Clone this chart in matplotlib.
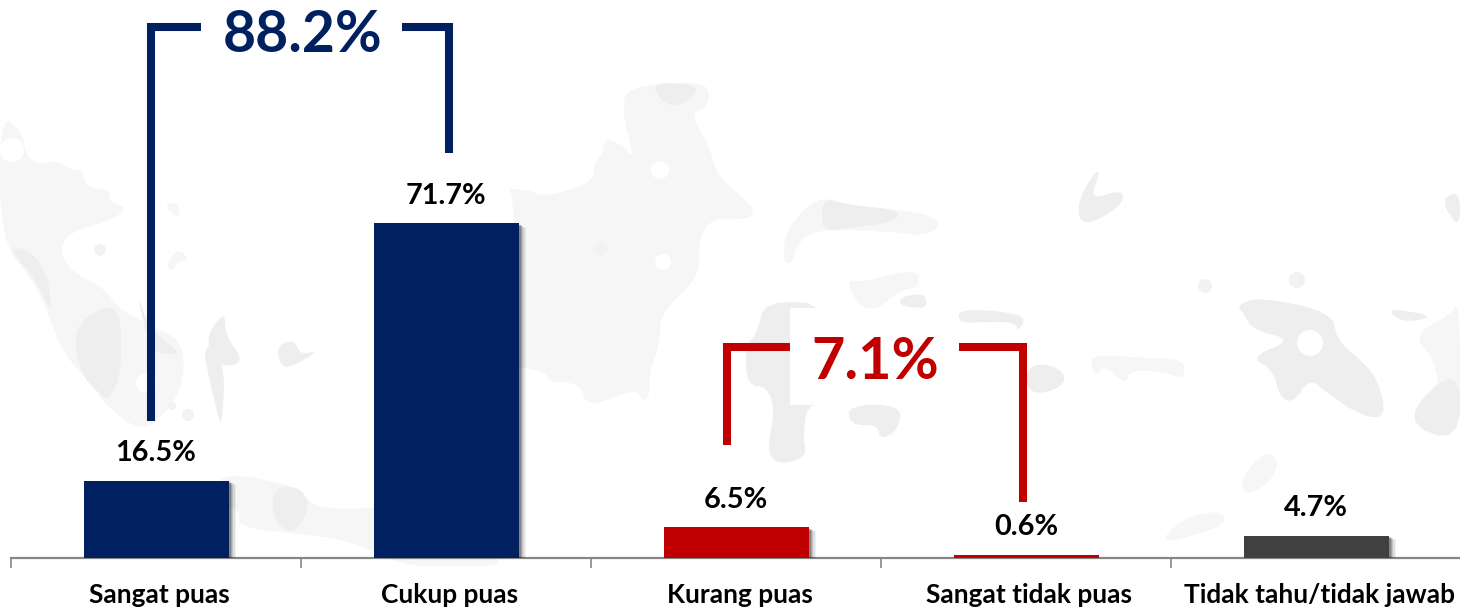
#!/usr/bin/env python3
"""Tingkat kepuasan: bar chart with two bracket totals over a faint map."""

import matplotlib
matplotlib.use('Agg')
import matplotlib.pyplot as plt
import matplotlib.patheffects as pe
from matplotlib.patches import Polygon, Circle

plt.rcParams['font.family'] = ['Lato', 'DejaVu Sans']

W, H = 1460, 609
AXIS_Y = 557.5
PX_PER_UNIT = 4.66

categories = ['Sangat puas', 'Cukup puas', 'Kurang puas',
              'Sangat tidak puas', 'Tidak tahu/tidak jawab']
values = [16.5, 71.7, 6.5, 0.6, 4.7]
value_labels = ['16.5%', '71.7%', '6.5%', '0.6%', '4.7%']
bar_colors = ['#002060', '#002060', '#C00000', '#C00000', '#404040']

positive_total = '88.2%'
negative_total = '7.1%'

# background map shapes, in picture pixels
map_light = [
    [(0, 113), (23, 133), (25, 153), (37, 165), (57, 160), (70, 170), (83, 170), (84, 183),
     (97, 190), (110, 190), (110, 203), (127, 207), (113, 220), (67, 233), (60, 253),
     (73, 273), (103, 287), (120, 310), (150, 325), (180, 340), (185, 367), (177, 400),
     (143, 435), (100, 400), (98, 387), (80, 373), (60, 347), (50, 317), (33, 280), (0, 240)],
    [(500, 188), (530, 190), (543, 197), (580, 187), (595, 177), (593, 165), (603, 153),
     (605, 138), (622, 145), (635, 160), (622, 112), (627, 87), (690, 82), (710, 87),
     (707, 108), (690, 113), (710, 147), (717, 177), (755, 207), (750, 220), (713, 217),
     (698, 240), (700, 277), (660, 313), (660, 343), (648, 377), (650, 395), (642, 402),
     (637, 388), (587, 408), (580, 383), (548, 382), (547, 373), (527, 368), (515, 368),
     (515, 188)],
    [(783, 263), (785, 233), (803, 210), (822, 197), (848, 205), (942, 215), (933, 237),
     (873, 230), (813, 230), (795, 247), (793, 263)],
    [(845, 280), (863, 282), (917, 268), (920, 287), (900, 290), (877, 310), (860, 307)],
    [(1090, 360), (1098, 355), (1150, 358), (1185, 360), (1184, 380), (1165, 372), (1130, 370),
     (1125, 385), (1105, 365), (1095, 376)],
    [(217, 490), (225, 472), (300, 487), (310, 505), (345, 510), (400, 505), (490, 510),
     (480, 520), (430, 525), (470, 545), (510, 565), (450, 567), (400, 565), (350, 540),
     (290, 533), (238, 527), (240, 510), (215, 500)],
    [(167, 204), (178, 202), (180, 218), (167, 210)],
    [(166, 265), (178, 248), (190, 260), (178, 262), (172, 272)],
    [(1240, 480), (1265, 450), (1280, 462), (1268, 485), (1245, 495)],
    [(1215, 510), (1228, 520), (1212, 530), (1158, 545), (1180, 520)],
    [(1413, 335), (1450, 315), (1460, 300), (1460, 440), (1440, 400), (1435, 360)],
]
map_dark = [
    [(8, 247), (30, 250), (48, 275), (52, 315), (36, 280)],
    [(73, 330), (100, 307), (120, 308), (122, 370), (110, 400), (100, 395), (80, 373)],
    [(136, 290), (150, 330), (180, 352), (170, 355), (150, 350)],
    [(204, 340), (225, 310), (225, 335), (245, 362), (220, 368)],
    [(205, 350), (215, 340), (225, 375), (222, 420), (220, 425), (205, 360)],
    [(277, 345), (295, 340), (300, 355), (320, 350), (290, 368), (280, 365)],
    [(273, 487), (300, 487), (310, 505), (300, 525), (290, 533), (273, 520)],
    [(652, 82), (700, 85), (690, 100), (675, 107), (660, 100)],
    [(765, 300), (833, 305), (833, 400), (807, 405), (803, 437), (807, 457), (777, 465),
     (767, 450), (775, 410), (767, 387), (747, 385), (745, 347), (757, 333)],
    [(822, 197), (848, 205), (900, 210), (895, 222), (850, 228), (822, 232)],
    [(1237, 305), (1260, 297), (1332, 312), (1337, 340), (1357, 357), (1377, 377), (1387, 417),
     (1363, 417), (1327, 393), (1310, 378), (1293, 403), (1280, 397), (1273, 370), (1250, 357),
     (1293, 340), (1253, 330), (1243, 313)],
    [(1388, 308), (1435, 316), (1410, 322), (1395, 318)],
    [(1400, 420), (1460, 363), (1460, 445)],
    [(1027, 365), (1055, 365), (1068, 380), (1050, 393), (1027, 392)],
    [(1078, 200), (1095, 172), (1100, 172), (1090, 200), (1120, 190), (1125, 200), (1105, 217),
     (1080, 225)],
    [(848, 405), (902, 405), (898, 430), (880, 440), (878, 425), (850, 425)],
    [(900, 297), (925, 293), (927, 307), (915, 308), (900, 305)],
    [(959, 310), (990, 310), (1027, 316), (1018, 332), (1015, 322), (985, 322), (959, 323)],
    [(1440, 200), (1460, 190), (1460, 230)],
]
map_holes = [(12, 150, 12), (660, 170, 9), (663, 262, 8), (146, 383, 10), (1310, 343, 13)]
map_dots = [(100, 250, 6), (188, 415, 6), (172, 406, 4), (601, 249, 7), (1205, 286, 7), (1297, 280, 8)]


def smooth(pts, rounds=2):
    """Corner cutting so the islands are not angular."""
    for _ in range(rounds):
        out = []
        for i, (x0, y0) in enumerate(pts):
            x1, y1 = pts[(i + 1) % len(pts)]
            out.append((0.75 * x0 + 0.25 * x1, 0.75 * y0 + 0.25 * y1))
            out.append((0.25 * x0 + 0.75 * x1, 0.25 * y0 + 0.75 * y1))
        pts = out
    return pts


def draw_background(fig):
    bg = fig.add_axes([0, 0, 1, 1], zorder=0)
    bg.set_xlim(0, W)
    bg.set_ylim(H, 0)
    bg.axis('off')
    for pts in map_light:
        bg.add_patch(Polygon(smooth(pts), closed=True, fc='#f6f6f6', ec='none'))
    for pts in map_dark:
        bg.add_patch(Polygon(smooth(pts), closed=True, fc='#eeeeee', ec='none'))
    for x, y, r in map_holes:
        bg.add_patch(Circle((x, y), r, fc='white', ec='none'))
    for x, y, r in map_dots:
        bg.add_patch(Circle((x, y), r, fc='#f2f2f2', ec='none'))


def draw_bracket(ax, left, right, top, left_end, right_end, color, text, text_size, text_x, text_y, gap):
    """Bracket with a gap in the top run where the total sits."""
    lw = 5.8
    ax.plot([left, left, gap[0]], [left_end, top, top], color=color, lw=lw,
            solid_capstyle='butt', solid_joinstyle='miter')
    ax.plot([gap[1], right, right], [top, top, right_end], color=color, lw=lw,
            solid_capstyle='butt', solid_joinstyle='miter')
    ax.text(text_x, text_y, text, color=color, fontsize=text_size, fontweight='bold',
            ha='center', va='center')


def main():
    fig = plt.figure(figsize=(W / 100, H / 100), dpi=100, facecolor='white')
    draw_background(fig)

    ax = fig.add_axes([11 / W, (H - AXIS_Y) / H, 1450 / W, AXIS_Y / H], zorder=1)
    ax.patch.set_alpha(0)
    ax.set_xlim(-0.5, 4.5)
    ax.set_ylim(0, AXIS_Y / PX_PER_UNIT)

    shadow = [pe.SimplePatchShadow(offset=(5.5, -3), shadow_rgbFace='#000000', alpha=0.05),
              pe.SimplePatchShadow(offset=(4.5, -2.5), shadow_rgbFace='#000000', alpha=0.08),
              pe.SimplePatchShadow(offset=(3.5, -2), shadow_rgbFace='#000000', alpha=0.12),
              pe.SimplePatchShadow(offset=(2.5, -1.5), shadow_rgbFace='#000000', alpha=0.15),
              pe.SimplePatchShadow(offset=(1.5, -1), shadow_rgbFace='#000000', alpha=0.2),
              pe.Normal()]
    bars = ax.bar(range(len(values)), values, width=0.5, color=bar_colors, zorder=3)
    for bar, value, label in zip(bars, values, value_labels):
        if value > 1:
            bar.set_path_effects(shadow)
        ax.annotate(label, (bar.get_x() + bar.get_width() / 2, value), xytext=(0, 10.5),
                    textcoords='offset points', ha='center', va='bottom',
                    fontsize=20.8, fontweight='bold', color='black', zorder=4)

    for side in ['top', 'left', 'right']:
        ax.spines[side].set_visible(False)
    ax.spines['bottom'].set_color('#868686')
    ax.spines['bottom'].set_linewidth(1.6)
    ax.set_yticks([])
    # labels sit a little right of the bar centres in the original
    ax.set_xticks([i + 0.012 for i in range(len(categories))])
    ax.set_xticklabels(categories, fontsize=18.9, fontweight='bold', color='black')
    ax.tick_params(axis='x', which='major', length=0, pad=18.5)
    ax.set_xticks([-0.5, 0.5, 1.5, 2.5, 3.5], minor=True)
    ax.tick_params(axis='x', which='minor', length=7, width=1.2, color='#868686')

    # white box behind the red total
    ax.axvspan(2.186, 2.769, ymin=(AXIS_Y - 405) / AXIS_Y, ymax=(AXIS_Y - 308) / AXIS_Y,
               color='white', lw=0, zorder=1)

    draw_bracket(ax, -0.017, 1.01, 113.8, 29.2, 86.9, '#002060', positive_total, 41,
                 0.506, 112.1, (0.155, 0.848))
    draw_bracket(ax, 1.969, 2.99, 45.2, 24.1, 11.9, '#C00000', negative_total, 41.5,
                 2.48, 41.9, (2.186, 2.769))

    fig.savefig('out.png', dpi=100)


if __name__ == '__main__':
    main()
